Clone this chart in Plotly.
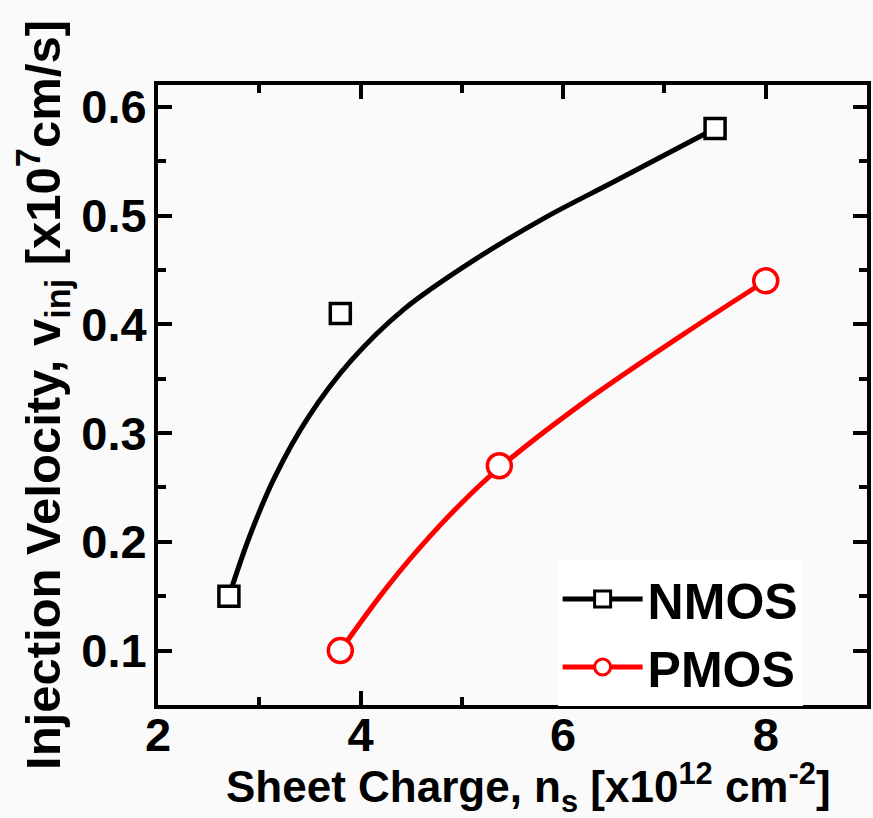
import plotly.graph_objects as go

# Measured data points
nmos_x = [2.7, 3.8, 7.5]
nmos_y = [0.15, 0.41, 0.58]
pmos_x = [3.8, 5.37, 8.0]
pmos_y = [0.10, 0.27, 0.44]

# Fitted curves
nmos_fit_x = [2.70, 2.90, 3.15, 3.48, 3.91, 4.43, 5.12, 5.84, 6.50, 7.50]
nmos_fit_y = [0.150, 0.204, 0.259, 0.314, 0.367, 0.414, 0.459, 0.499, 0.531, 0.580]
pmos_fit_x = [3.80, 4.20, 4.57, 5.00, 5.37, 6.20, 7.19, 8.00]
pmos_fit_y = [0.100, 0.151, 0.193, 0.236, 0.268, 0.328, 0.391, 0.440]

series_names = ["NMOS", "PMOS"]
x_title = "Sheet Charge, n<sub>s</sub> [x10<sup>12</sup> cm<sup>-2</sup>]"
y_title = "Injection Velocity, v<sub>inj</sub> [x10<sup>7</sup>cm/s]"

FONT = "Liberation Sans Narrow, Arial Narrow, Liberation Sans, Arial"
BG = "#fafafa"

fig = go.Figure()
fig.add_trace(go.Scatter(x=nmos_fit_x, y=nmos_fit_y, mode="lines",
                         line=dict(color="black", width=5, shape="spline", smoothing=0.9),
                         showlegend=False, hoverinfo="skip"))
fig.add_trace(go.Scatter(x=pmos_fit_x, y=pmos_fit_y, mode="lines",
                         line=dict(color="#ff0000", width=5, shape="spline", smoothing=0.9),
                         showlegend=False, hoverinfo="skip"))
fig.add_trace(go.Scatter(x=nmos_x, y=nmos_y, mode="markers",
                         marker=dict(symbol="square", size=20, color="white",
                                     line=dict(color="black", width=3.5)),
                         showlegend=False))
fig.add_trace(go.Scatter(x=pmos_x, y=pmos_y, mode="markers",
                         marker=dict(symbol="circle", size=24, color="white",
                                     line=dict(color="#ff0000", width=3.5)),
                         showlegend=False))
# legend entries
fig.add_trace(go.Scatter(x=[None], y=[None], mode="lines+markers", name=series_names[0],
                         line=dict(color="black", width=5),
                         marker=dict(symbol="square", size=20, color="white",
                                     line=dict(color="black", width=3))))
fig.add_trace(go.Scatter(x=[None], y=[None], mode="lines+markers", name=series_names[1],
                         line=dict(color="#ff0000", width=5),
                         marker=dict(symbol="circle", size=22, color="white",
                                     line=dict(color="#ff0000", width=3))))

axis_common = dict(
    showline=True, linecolor="black", linewidth=4, mirror="ticks",
    ticks="inside", ticklen=14, tickwidth=3.5, tickcolor="black",
    showgrid=False, zeroline=False,
    tickfont=dict(family=FONT, size=47, color="black", weight="bold"),
)

fig.update_xaxes(range=[2, 9], tick0=2, dtick=2, ticklabelstandoff=-14,
                 minor=dict(ticks="inside", ticklen=8, tickwidth=3.5, tickcolor="black", dtick=1, tick0=2),
                 **axis_common)
fig.update_yaxes(range=[0.05, 0.62], tick0=0.1, dtick=0.1, tickformat=".1f", ticklabelstandoff=-2,
                 minor=dict(ticks="inside", ticklen=8, tickwidth=3.5, tickcolor="black", dtick=0.05, tick0=0.05),
                 title=dict(text=y_title,
                            font=dict(family=FONT, size=49, color="black", weight="bold"), standoff=6),
                 **axis_common)

fig.add_annotation(text=x_title, xref="paper", yref="paper",
                   x=(532 - 158) / 715, y=-(787 - 705) / 620,
                   xanchor="center", yanchor="middle", showarrow=False,
                   font=dict(family=FONT, size=44, color="black", weight="bold"))

fig.update_layout(
    width=873, height=818,
    margin=dict(l=158, r=2, t=85, b=113),
    paper_bgcolor=BG, plot_bgcolor=BG,
    legend=dict(x=(561 - 158) / 715, y=(705 - 560) / 620, xanchor="left", yanchor="top",
                bgcolor="white", borderwidth=0, itemwidth=80,
                font=dict(family=FONT, size=50, color="black", weight="bold"),
                tracegroupgap=0),
)

fig.write_html("out.html")
